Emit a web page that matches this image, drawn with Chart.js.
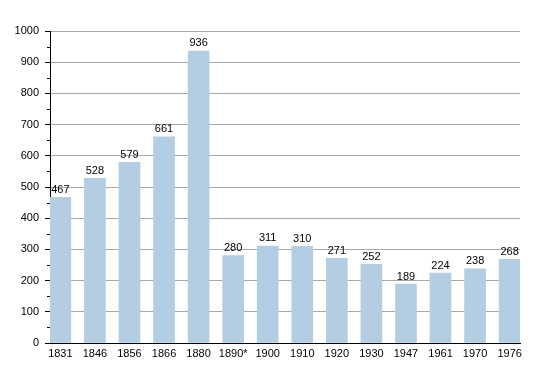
<!DOCTYPE html>
<html>
<head>
<meta charset="utf-8">
<script src="https://cdn.jsdelivr.net/npm/chart.js@4/dist/chart.umd.min.js"></script>
<style>
  html, body { margin: 0; padding: 0; background: #fff; }
  #wrap { width: 550px; height: 373px; }
</style>
</head>
<body>
<div id="wrap"><canvas id="myChart" width="550" height="373"></canvas></div>
<script>
var years = ["1831", "1846", "1856", "1866", "1880", "1890*", "1900", "1910", "1920", "1930", "1947", "1961", "1970", "1976"];
var population = [467, 528, 579, 661, 936, 280, 311, 310, 271, 252, 189, 224, 238, 268];
var yTicks = [0, 100, 200, 300, 400, 500, 600, 700, 800, 900, 1000];

var fontFamily = "'Liberation Sans', Arial, sans-serif";

// bars sit on a linear index axis so they can hug the axis lines
var points = population.map(function(v, i) { return {x: i, y: v}; });

var valueLabels = {
    id: "valueLabels",
    afterDatasetsDraw: function(chart) {
        var ctx = chart.ctx;
        var meta = chart.getDatasetMeta(0);
        ctx.save();
        ctx.fillStyle = "#000";
        ctx.font = "11px " + fontFamily;
        ctx.textAlign = "center";
        ctx.textBaseline = "bottom";
        meta.data.forEach(function(bar, i) {
            ctx.fillText(String(population[i]), bar.x, bar.y - 2);
        });
        ctx.restore();
    }
};

// short ticks at the half steps
var minorTicks = {
    id: "minorTicks",
    afterDraw: function(chart) {
        var ctx = chart.ctx;
        var y = chart.scales.y;
        var left = chart.chartArea.left;
        ctx.save();
        ctx.strokeStyle = "#000";
        ctx.lineWidth = 1;
        for (var v = 50; v < 1000; v += 100) {
            var py = Math.round(y.getPixelForValue(v)) + 0.5;
            ctx.beginPath();
            ctx.moveTo(left - 3, py);
            ctx.lineTo(left, py);
            ctx.stroke();
        }
        ctx.restore();
    }
};

var ctx = document.getElementById("myChart").getContext("2d");
var myChart = new Chart(ctx, {
    type: "bar",
    data: {
        datasets: [{
            data: points,
            backgroundColor: "#b3cde3",
            borderWidth: 0,
            barThickness: 21
        }]
    },
    options: {
        responsive: false,
        animation: false,
        layout: { padding: { top: 31, right: 30, bottom: 0, left: 0 } },
        plugins: {
            legend: { display: false },
            tooltip: { enabled: false }
        },
        scales: {
            x: {
                type: "linear",
                offset: false,
                min: -0.3,
                max: 13.3,
                afterBuildTicks: function(scale) {
                    scale.ticks = years.map(function(y, i) { return {value: i}; });
                },
                afterFit: function(scale) { scale.height = 30; },
                grid: { display: false, drawTicks: false },
                border: { display: true, color: "#000", width: 1 },
                ticks: {
                    autoSkip: false,
                    maxRotation: 0,
                    padding: 4,
                    color: "#000",
                    font: { family: fontFamily, size: 11 },
                    callback: function(v) { return years[v]; }
                }
            },
            y: {
                min: 0,
                max: 1000,
                afterBuildTicks: function(scale) {
                    var t = [];
                    for (var v = 0; v <= 1000; v += 50) t.push({value: v});
                    scale.ticks = t;
                },
                afterFit: function(scale) { scale.width = 50; },
                grid: {
                    color: function(c) {
                        return c.tick.value % 100 === 0 ? "#a8a8a8" : "#e8e8e8";
                    },
                    tickColor: function(c) {
                        return c.tick.value % 100 === 0 ? "#000" : "rgba(0,0,0,0)";
                    },
                    tickLength: 5
                },
                border: { display: true, color: "#000", width: 1 },
                ticks: {
                    padding: 6,
                    color: "#000",
                    font: { family: fontFamily, size: 11 },
                    callback: function(v) {
                        return yTicks.indexOf(v) >= 0 ? String(v) : "";
                    }
                }
            }
        }
    },
    plugins: [valueLabels, minorTicks]
});
</script>
</body>
</html>
